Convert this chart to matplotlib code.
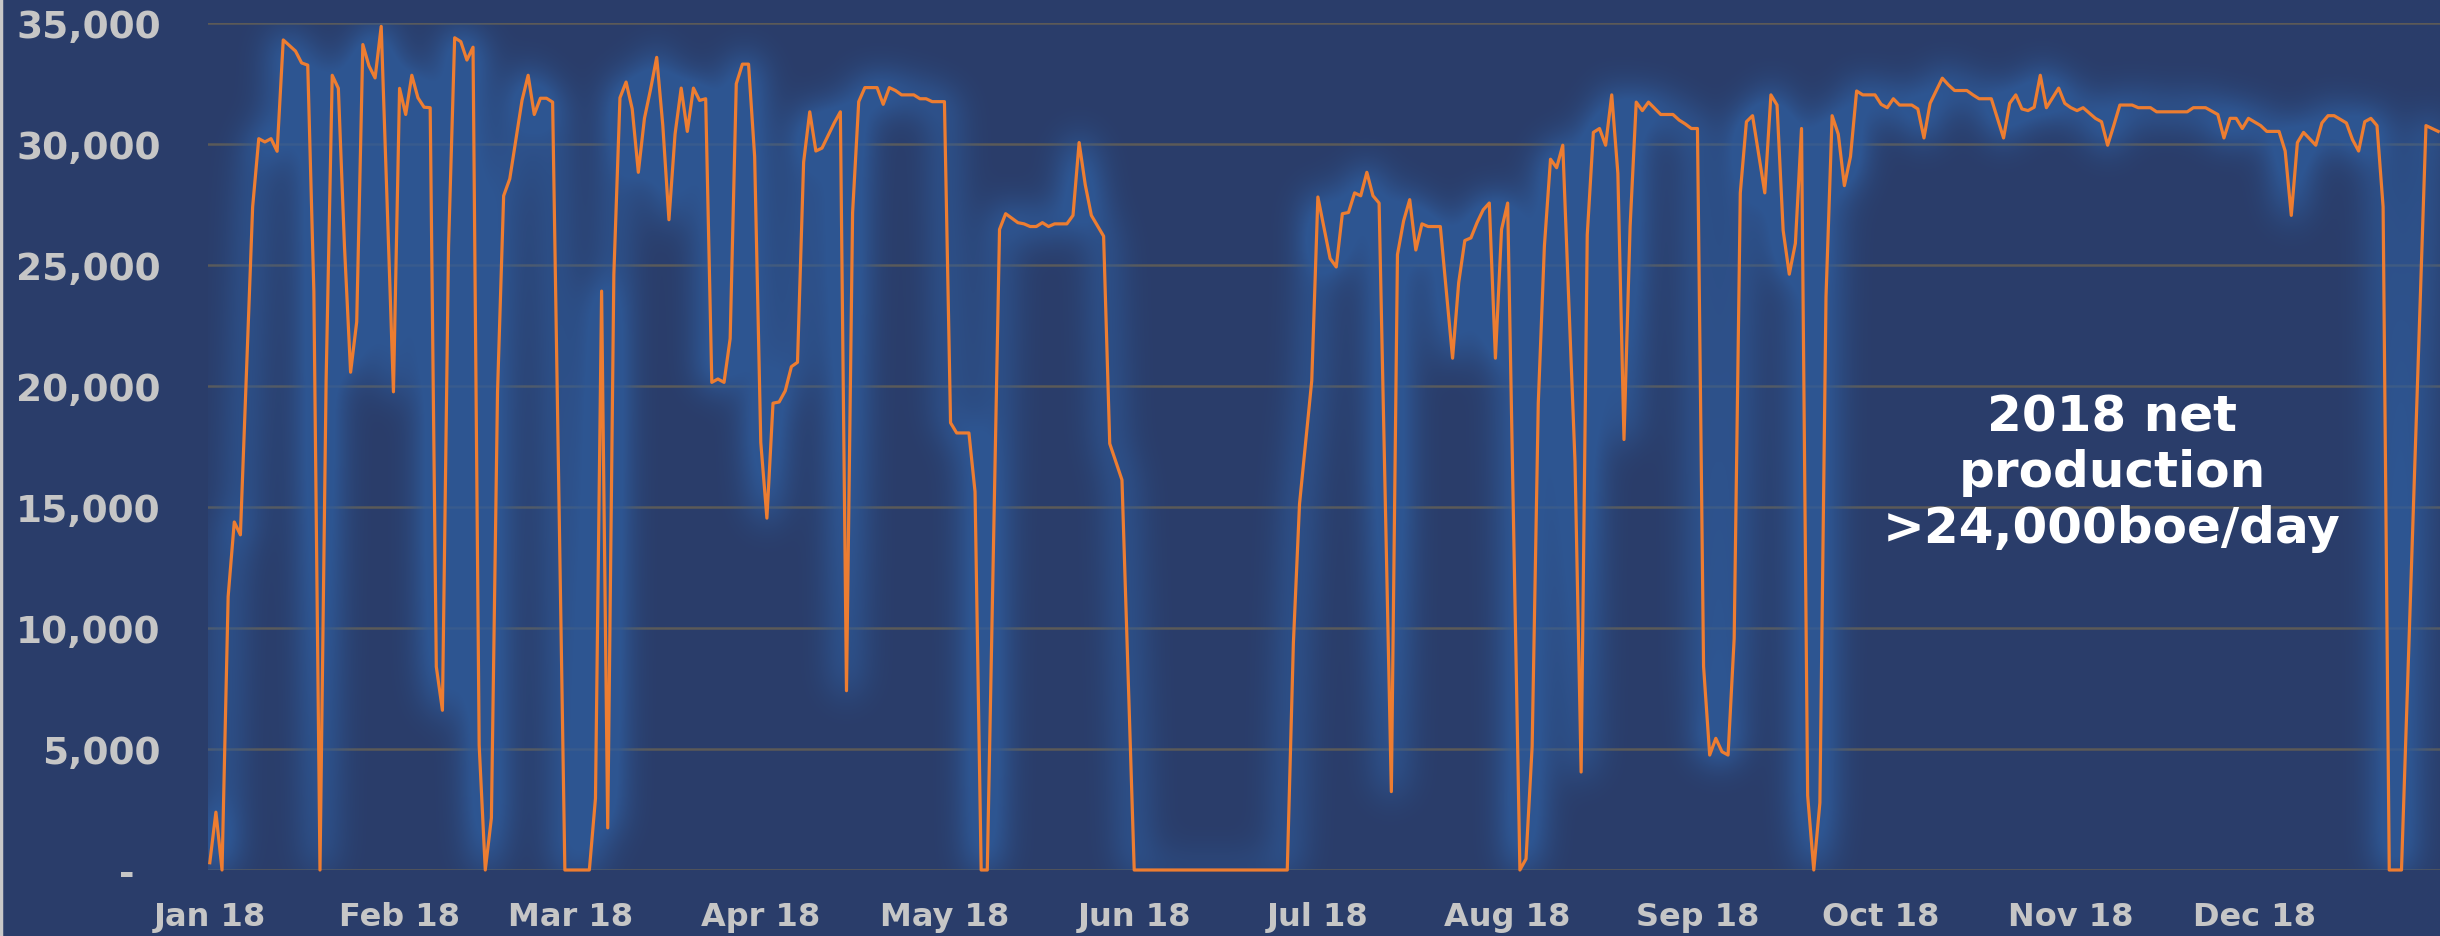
import numpy as np
import pandas as pd
import matplotlib
matplotlib.use("Agg")
import matplotlib.pyplot as plt
import matplotlib.dates as mdates
from matplotlib.colors import to_rgb
from matplotlib.lines import Line2D

# day of year (0 = 1 Jan 2018) and net production, boe/day
days = [0, 1, 2, 3, 4, 5, 7, 8, 9, 10, 11, 12, 13, 14, 15, 16, 17, 18, 19, 20,
        21, 22, 23, 24, 25, 26, 27, 28, 30, 31, 32, 33, 34, 35, 36, 37, 38, 39, 40, 41,
        42, 43, 44, 45, 46, 47, 48, 49, 51, 52, 53, 54, 55, 56, 58, 62, 63, 64, 65, 66,
        67, 68, 69, 70, 71, 72, 73, 74, 75, 76, 77, 78, 79, 80, 81, 82, 83, 84, 85, 86,
        87, 88, 89, 90, 91, 92, 93, 94, 95, 96, 97, 98, 99, 100, 102, 103, 104, 105, 106, 107,
        109, 110, 111, 112, 113, 115, 116, 117, 118, 120, 121, 122, 124, 125, 126, 127, 129, 130, 132, 133,
        134, 135, 136, 137, 138, 140, 141, 142, 143, 144, 146, 147, 149, 151, 176, 177, 178, 180, 181, 183,
        184, 185, 186, 187, 188, 189, 190, 191, 193, 194, 195, 196, 197, 198, 199, 201, 203, 204, 205, 206,
        207, 208, 209, 210, 211, 212, 214, 215, 216, 217, 218, 219, 220, 221, 223, 224, 225, 226, 227, 228,
        229, 230, 231, 232, 233, 234, 235, 237, 239, 240, 241, 242, 243, 244, 245, 246, 247, 248, 249, 250,
        251, 252, 254, 255, 256, 257, 258, 259, 260, 261, 262, 263, 264, 265, 266, 267, 268, 269, 270, 272,
        273, 274, 275, 276, 278, 279, 280, 281, 283, 284, 285, 287, 288, 289, 291, 293, 294, 295, 296, 297,
        298, 299, 300, 302, 303, 304, 305, 306, 308, 309, 310, 311, 312, 314, 315, 317, 318, 323, 324, 326,
        328, 329, 330, 331, 332, 333, 335, 336, 338, 339, 340, 341, 342, 344, 345, 346, 347, 349, 350, 351,
        352, 353, 354, 355, 356, 358, 362, 364]
production = [300, 2390, 0, 11300, 14380, 13850, 27400, 30220, 30085, 30220, 29700, 34300, 34070, 33840, 33350, 33260, 23900, 0, 20200, 32840,
              32300, 25780, 20570, 22650, 34110, 33230, 32730, 34860, 19760, 32300, 31220, 32840, 31910, 31520, 31500, 8400, 6600, 25780, 34390, 34230,
              33470, 34000, 5160, 0, 2150, 19760, 27860, 28560, 31800, 32840, 31220, 31890, 31890, 31730, 0, 0, 2960, 23920, 1740, 24600,
              31910, 32560, 31450, 28830, 31060, 32260, 33580, 30760, 26870, 30410, 32310, 30520, 32310, 31800, 31870, 20150, 20290, 20150, 21960, 32490,
              33300, 33300, 29480, 17670, 14540, 19290, 19340, 19800, 20800, 20980, 29250, 31330, 29710, 29830, 30870, 31330, 7410, 27170, 31750, 32330,
              32330, 31640, 32330, 32210, 32030, 32030, 31870, 31870, 31750, 31750, 18480, 18060, 18060, 15630, 0, 0, 26470, 27120, 26750, 26700,
              26590, 26590, 26750, 26590, 26700, 26700, 27050, 30060, 28320, 27050, 26190, 17620, 16120, 0, 0, 9380, 15120, 20220, 27810, 25270,
              24920, 27120, 27170, 27980, 27860, 28830, 27860, 27560, 3240, 25430, 26820, 27700, 25620, 26700, 26590, 26590, 21150, 24270, 26010, 26120,
              26750, 27280, 27560, 21150, 26470, 27560, 0, 460, 5100, 19290, 25780, 29370, 29020, 29950, 16860, 4050, 26240, 30480, 30640, 29950,
              32030, 28790, 17790, 26590, 31730, 31380, 31730, 31220, 31220, 30990, 30830, 30640, 30640, 8410, 4750, 5440, 4890, 4750, 9570, 27980,
              30920, 31170, 27980, 32030, 31610, 26430, 24620, 25900, 30640, 3080, 0, 2780, 23690, 31170, 30410, 28280, 29480, 32190, 32030, 32030,
              31640, 31500, 31870, 31610, 31610, 31450, 30250, 31680, 32720, 32440, 32210, 32210, 32030, 31870, 31870, 30250, 31680, 32030, 31450, 31380,
              31520, 32840, 31500, 32310, 31680, 31500, 31380, 31500, 31060, 30920, 29950, 30760, 31610, 31610, 31500, 31500, 31330, 31330, 31500, 31500,
              31220, 30250, 31060, 31060, 30640, 31060, 30760, 30520, 30520, 29710, 27050, 30060, 30480, 29950, 30870, 31170, 31170, 30870, 30180, 29710,
              30920, 31060, 30760, 27400, 0, 0, 30760, 30520]

y_ticks = [0, 5000, 10000, 15000, 20000, 25000, 30000, 35000]
y_labels = ["-  ", "5,000", "10,000", "15,000", "20,000", "25,000", "30,000", "35,000"]
month_starts = pd.date_range("2018-01-01", "2018-12-01", freq="MS")
note = "2018 net\nproduction\n>24,000boe/day"

BG = "#2a3d6a"
GLOW = "#2f5c9c"
ORANGE = "#ed7d31"
GRID = "#5c5a57"
LABEL = "#c6c6c6"

dates = pd.Timestamp("2018-01-01") + pd.to_timedelta(days, unit="D")
x0 = pd.Timestamp("2018-01-01") - pd.Timedelta(hours=7)
x1 = pd.Timestamp("2018-12-31") + pd.Timedelta(hours=7)

W, H = 2440, 937
rect = [208 / W, (H - 871) / H, (W - 208) / W, (871 - 24) / H]


def glow_layer():
    # draw a white copy of the line off screen and blur it wide
    g = plt.figure(figsize=(W / 100, H / 100), dpi=100, facecolor="black")
    gax = g.add_axes(rect)
    gax.set_facecolor("black")
    gax.plot(dates, production, color="white", lw=7,
             solid_joinstyle="round", solid_capstyle="round")
    gax.set_xlim(x0, x1)
    gax.set_ylim(0, 35000)
    gax.axis("off")
    g.canvas.draw()
    img = np.asarray(g.canvas.buffer_rgba())[24:871, 208:W, 0] / 255.0
    plt.close(g)

    sigma = 18
    t = np.arange(-3 * sigma, 3 * sigma + 1)
    k = np.exp(-t ** 2 / (2 * sigma ** 2))
    k /= k.sum()
    img = np.apply_along_axis(lambda r: np.convolve(r, k, mode="same"), 1, img)
    img = np.apply_along_axis(lambda c: np.convolve(c, k, mode="same"), 0, img)

    rgba = np.zeros(img.shape + (4,))
    rgba[..., :3] = to_rgb(GLOW)
    rgba[..., 3] = np.clip(img * 3.2, 0, 1) * 0.8
    return rgba


fig = plt.figure(figsize=(W / 100, H / 100), dpi=100, facecolor=BG)
ax = fig.add_axes(rect)
ax.set_facecolor(BG)

ax.imshow(glow_layer(), extent=[mdates.date2num(x0), mdates.date2num(x1), 0, 35000],
          aspect="auto", origin="upper", interpolation="bilinear", zorder=2)
ax.plot(dates, production, color=ORANGE, lw=2.3, zorder=4, clip_on=False)

ax.set_ylim(0, 35000)
ax.set_xlim(x0, x1)

ax.set_yticks(y_ticks)
ax.set_yticklabels(y_labels, fontweight="bold")
ax.set_xticks(month_starts)
ax.xaxis.set_major_formatter(mdates.DateFormatter("%b %y"))
for lbl in ax.get_xticklabels():
    lbl.set_fontweight("bold")

ax.tick_params(axis="y", length=0, pad=34, labelsize=27, labelcolor=LABEL)
ax.tick_params(axis="x", length=0, pad=22, labelsize=23, labelcolor=LABEL)
ax.grid(axis="y", color=GRID, lw=1.8, zorder=1)
ax.grid(axis="x", visible=False)
ax.set_axisbelow(True)
for s in ax.spines.values():
    s.set_visible(False)

fig.text(2112 / W, 1 - 473 / H, note, ha="center", va="center", fontsize=36,
         fontweight="bold", color="white", linespacing=1.2)

# thin light border on the left edge of the slide
fig.add_artist(Line2D([0.0006, 0.0006], [0, 1], transform=fig.transFigure,
                      color="#c8c8c8", lw=2.5))

fig.savefig("out.png", dpi=100, facecolor=BG)
